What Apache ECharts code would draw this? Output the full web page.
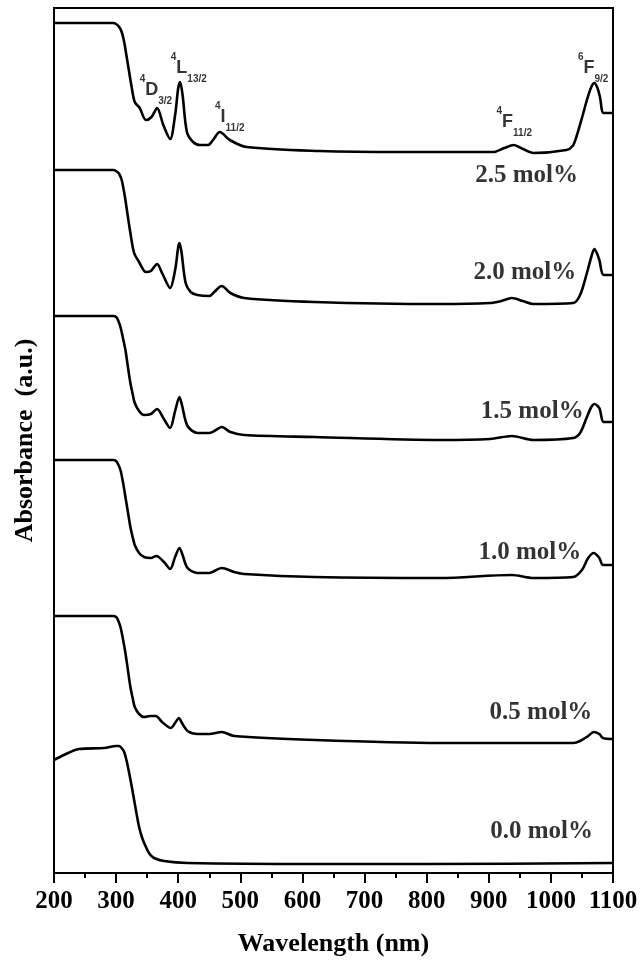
<!DOCTYPE html>
<html>
<head>
<meta charset="utf-8">
<script src="https://cdn.jsdelivr.net/npm/echarts@6/dist/echarts.min.js"></script>
<style>
    html, body { margin: 0; padding: 0; background: #fff; }
    #main { width: 641px; height: 965px; }
</style>
</head>
<body>
<div id="main"></div>
<script>
'use strict';

// sample labels (bottom to top)
var samples = ['0.0 mol%', '0.5 mol%', '1.0 mol%', '1.5 mol%', '2.0 mol%', '2.5 mol%'];

// spectra [wavelength nm, absorbance a.u. incl. vertical offset]
var spec00 = [[200,113],[216,118],[240,124],[281,125],[300,127],[305,127],[310,124],[313,121],[317,112],[321,100],[325,87],[329,73],[333,59],[337,46],[342,35],[348,26],[354,19],[361,15],[377,12],[415,10],[619,9],[800,9],[1100,10]];
var spec05 = [[200,257],[295,257],[300,256],[303,253],[307,246],[311,234],[315,220],[319,203],[323,186],[327,174],[330,166],[337,159],[345,156],[355,157],[364,157],[374,151],[388,145],[396,151],[401,155],[406,150],[415,142],[431,139],[450,139],[470,141],[490,137],[619,133],[821,130],[1036,130],[1047,132],[1060,137],[1069,141],[1078,139],[1084,135],[1100,134]];
var spec10 = [[200,413],[295,413],[300,412],[303,409],[307,403],[311,391],[315,376],[319,361],[323,346],[327,335],[330,328],[337,320],[345,316],[356,315],[365,317],[377,311],[387,304],[395,316],[402,325],[407,318],[415,305],[431,300],[450,300],[470,305],[490,301],[506,299],[619,296],[821,295],[937,298],[972,295],[1036,296],[1050,303],[1060,315],[1069,320],[1078,315],[1084,308],[1100,308]];
var spec15 = [[200,557],[295,557],[300,556],[303,553],[307,546],[311,535],[315,523],[319,506],[323,490],[327,478],[330,470],[337,462],[345,458],[356,459],[366,464],[376,455],[387,445],[395,462],[402,476],[406,468],[415,447],[431,440],[450,440],[458,442],[470,446],[484,441],[506,438],[619,436],[821,433],[902,434],[937,437],[972,433],[1036,435],[1047,440],[1058,456],[1065,466],[1070,469],[1078,465],[1085,451],[1100,451]];
var spec20 = [[200,703],[295,703],[300,702],[305,699],[309,693],[312,684],[315,673],[319,656],[323,640],[329,620],[337,611],[348,601],[356,602],[366,609],[374,600],[387,585],[395,603],[400,626],[402,630],[405,622],[412,590],[420,581],[431,578],[450,577],[458,581],[470,587],[484,580],[506,575],[619,571],[821,569],[902,570],[920,572],[937,575],[955,572],[972,569],[1036,570],[1047,578],[1058,600],[1065,616],[1070,624],[1074,620],[1078,613],[1085,598],[1100,598]];
var spec25 = [[200,850],[295,850],[300,849],[305,846],[309,841],[313,831],[317,816],[321,801],[325,786],[330,771],[338,765],[348,753],[357,756],[366,765],[376,748],[387,734],[395,758],[400,785],[403,791],[407,778],[414,741],[424,731],[435,728],[448,728],[456,733],[467,741],[483,733],[510,726],[628,722],[757,721],[907,721],[925,725],[940,728],[955,724],[972,720],[1025,723],[1035,727],[1041,736],[1050,755],[1058,773],[1065,786],[1070,790],[1075,785],[1079,776],[1085,760],[1100,760]];

// sample label anchors
var molWl = [985, 984, 966, 970, 958, 961];
var molAbs = [41, 160, 320, 461, 600, 697];

// transition labels on the 2.5 mol% curve
var termSup = ['4', '4', '4', '4', '6'];
var termMain = ['D', 'L', 'I', 'F', 'F'];
var termSub = ['3/2', '13/2', '11/2', '11/2', '9/2'];
var termWl = [364, 417, 483, 941, 1068];
var termAbs = [783, 805, 756, 751, 805];

var spectra = [spec00, spec05, spec10, spec15, spec20, spec25];

var serif = '"Liberation Serif", "Times New Roman", serif';
var sans = '"Liberation Sans", Arial, sans-serif';

var myChart = echarts.init(document.getElementById('main'));

var series = spectra.map(function(d, i) {
    return {
        name: samples[i],
        type: 'line',
        data: d,
        showSymbol: false,
        smooth: 0.3,
        lineStyle: { color: '#000', width: 2.6 },
        silent: true
    };
});

series.push({
    type: 'scatter',
    symbolSize: 0,
    silent: true,
    data: molWl.map(function(w, i) {
        return { name: samples[i], value: [w, molAbs[i]] };
    }),
    label: {
        show: true,
        position: 'inside',
        formatter: '{b}',
        color: '#000',
        textBorderWidth: 0,
        fontFamily: serif,
        fontWeight: 'bold',
        fontSize: 25
    }
});

series.push({
    type: 'scatter',
    symbolSize: 0,
    silent: true,
    data: termWl.map(function(w, i) {
        return { name: '{p|' + termSup[i] + '}{m|' + termMain[i] + '}{s|' + termSub[i] + '}', value: [w, termAbs[i]] };
    }),
    label: {
        show: true,
        position: 'inside',
        formatter: '{b}',
        color: '#000',
        textBorderWidth: 0,
        rich: {
            p: { fontFamily: sans, fontWeight: 'bold', fontSize: 10, color: '#000', verticalAlign: 'top', lineHeight: 30 },
            m: { fontFamily: sans, fontWeight: 'bold', fontSize: 18, color: '#000', lineHeight: 32 },
            s: { fontFamily: sans, fontWeight: 'bold', fontSize: 10, color: '#000', verticalAlign: 'bottom', lineHeight: 12 }
        }
    }
});

var option = {
    animation: false,
    backgroundColor: '#fff',
    grid: {
        left: 54,
        right: 28,
        top: 8,
        bottom: 92,
        show: true,
        borderColor: '#000',
        borderWidth: 2,
        outerBoundsMode: 'none'
    },
    xAxis: {
        type: 'value',
        min: 200,
        max: 1100,
        interval: 100,
        name: 'Wavelength (nm)',
        nameLocation: 'middle',
        nameGap: 58,
        nameTextStyle: { color: '#000', fontFamily: serif, fontWeight: 'bold', fontSize: 26 },
        axisLine: { show: true, lineStyle: { color: '#000', width: 2 } },
        axisTick: { show: true, inside: false, length: 10, lineStyle: { color: '#000', width: 2 } },
        minorTick: { show: true, splitNumber: 2, length: 5, lineStyle: { color: '#000', width: 2 } },
        axisLabel: {
            color: '#000',
            fontFamily: serif,
            fontWeight: 'bold',
            fontSize: 25,
            margin: 16,
            formatter: function(v) { return String(v); }
        },
        splitLine: { show: false }
    },
    yAxis: {
        type: 'value',
        min: 0,
        max: 865,
        name: 'Absorbance  (a.u.)',
        nameLocation: 'middle',
        nameGap: 16,
        nameTextStyle: { color: '#000', fontFamily: serif, fontWeight: 'bold', fontSize: 26 },
        axisLine: { show: true, lineStyle: { color: '#000', width: 2 } },
        axisTick: { show: false },
        axisLabel: { show: false },
        splitLine: { show: false }
    },
    series: series
};

myChart.setOption(option);
</script>
</body>
</html>
